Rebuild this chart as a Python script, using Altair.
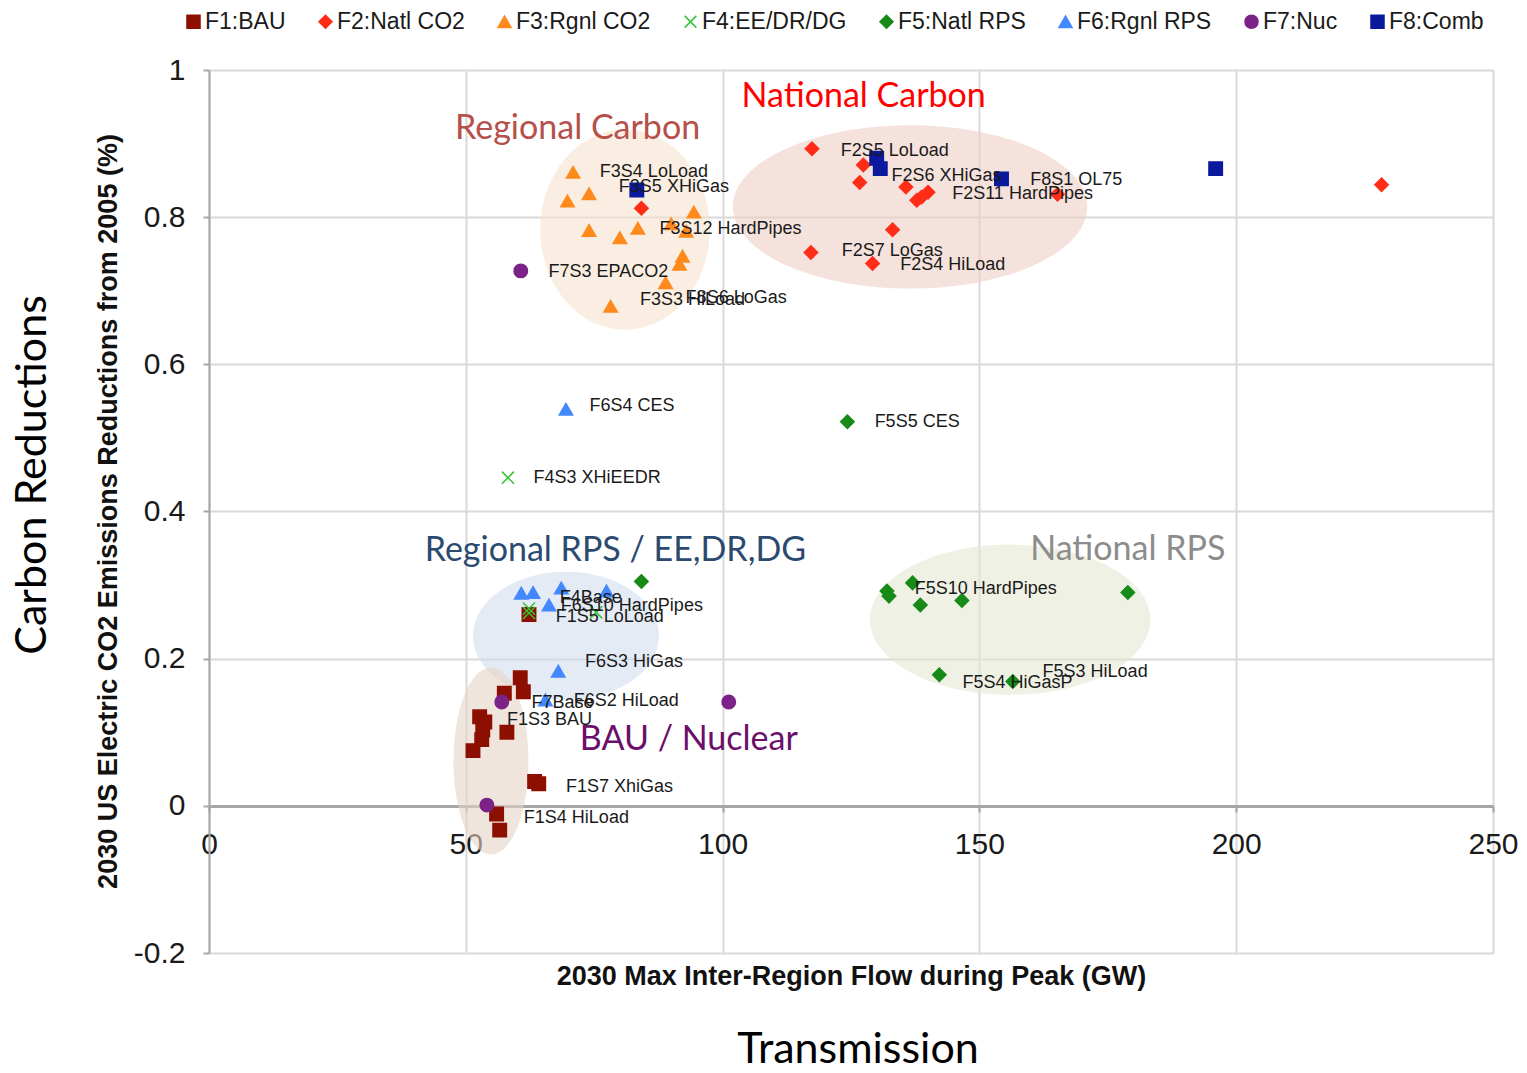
import altair as alt
import pandas as pd

# ---------------- data ----------------
series_names = ["F1:BAU", "F2:Natl CO2", "F3:Rgnl CO2", "F4:EE/DR/DG",
                "F5:Natl RPS", "F6:Rgnl RPS", "F7:Nuc", "F8:Comb"]
series_colors = ["#8C0F00", "#FF2D17", "#FF8A1C", "#33C433",
                 "#178A17", "#4488FF", "#7B2387", "#0B1A9C"]
x_path = "M-0.9,-0.9L0.9,0.9M0.9,-0.9L-0.9,0.9"
series_shapes = ["square", "diamond", "triangle-up", x_path,
                 "diamond", "triangle-up", "circle", "square"]

f1_x = [52.7, 53.7, 53.3, 53.1, 51.4, 60.6, 61.2, 57.5, 58.0, 63.4, 64.2, 56.0, 56.6, 62.3]
f1_y = [0.121, 0.114, 0.103, 0.090, 0.075, 0.174, 0.155, 0.153, 0.100, 0.033, 0.030, -0.011, -0.033, 0.260]

f2_x = [117.4, 127.4, 126.7, 135.7, 140.0, 138.7, 137.8, 165.2, 228.3, 133.1, 117.2, 129.2, 84.2]
f2_y = [0.893, 0.871, 0.847, 0.841, 0.834, 0.827, 0.823, 0.831, 0.844, 0.783, 0.752, 0.737, 0.812]

f3_x = [70.9, 74.0, 69.8, 94.4, 74.0, 80.0, 83.5, 90.0, 92.9, 92.2, 91.6, 88.9, 78.2]
f3_y = [0.861, 0.832, 0.822, 0.807, 0.782, 0.772, 0.785, 0.791, 0.781, 0.747, 0.736, 0.711, 0.679]

f4_x = [58.2, 62.3, 62.3, 75.4]
f4_y = [0.446, 0.268, 0.262, 0.263]

f5_x = [124.3, 84.2, 132.0, 132.4, 137.0, 138.5, 146.6, 178.9, 142.2, 156.5]
f5_y = [0.522, 0.305, 0.292, 0.285, 0.303, 0.273, 0.279, 0.290, 0.178, 0.169]

f6_x = [69.5, 60.8, 63.1, 68.6, 77.4, 66.2, 68.0, 65.5]
f6_y = [0.539, 0.289, 0.290, 0.296, 0.292, 0.273, 0.183, 0.144]

f7_x = [60.7, 57.0, 101.2, 54.1]
f7_y = [0.727, 0.141, 0.141, 0.001]

f8_x = [130.0, 130.7, 154.3, 196.0, 83.3]
f8_y = [0.880, 0.866, 0.852, 0.866, 0.837]

label_text = ["F3S4 LoLoad", "F3S5 XHiGas", "F3S12 HardPipes", "F7S3 EPACO2", "F3S3 HiLoad",
              "F8S6 LoGas", "F2S5 LoLoad", "F2S6 XHiGas", "F8S1 OL75", "F2S11 HardPipes",
              "F2S7 LoGas", "F2S4 HiLoad", "F6S4 CES", "F5S5 CES", "F4S3 XHiEEDR",
              "F4Base", "F6S10 HardPipes", "F1S5 LoLoad", "F5S10 HardPipes", "F6S3 HiGas",
              "F5S3 HiLoad", "F5S4 HiGasP", "F7Base", "F6S2 HiLoad", "F1S3 BAU",
              "F1S7 XhiGas", "F1S4 HiLoad"]
label_x = [76.1, 79.8, 87.7, 66.1, 83.9, 92.8, 123.0, 132.9, 159.9, 144.7,
           123.2, 134.6, 74.1, 129.6, 63.2, 68.3, 68.5, 67.5, 137.4, 73.2,
           162.3, 146.7, 62.8, 71.0, 58.0, 69.5, 61.3]
label_y = [0.861, 0.841, 0.784, 0.725, 0.688, 0.690, 0.890, 0.856, 0.850, 0.831,
           0.754, 0.735, 0.544, 0.522, 0.445, 0.282, 0.272, 0.257, 0.294, 0.195,
           0.182, 0.167, 0.140, 0.143, 0.116, 0.026, -0.016]

region_text = ["National Carbon", "Regional Carbon", "Regional RPS / EE,DR,DG", "National RPS", "BAU / Nuclear"]
region_x = [103.7, 47.9, 42.0, 159.9, 72.2]
region_y = [0.963, 0.920, 0.346, 0.348, 0.090]
region_color = ["#FF0000", "#B5504A", "#2B4A6F", "#8C8C8C", "#6B0F6B"]

ell_name = ["Regional Carbon", "National Carbon", "Regional RPS", "National RPS", "BAU"]
ell_cx = [81.0, 136.5, 69.5, 156.0, 54.9]
ell_cy = [0.783, 0.814, 0.231, 0.253, 0.061]
ell_rx = [16.5, 34.5, 18.1, 27.3, 7.3]
ell_ry = [0.136, 0.111, 0.087, 0.102, 0.127]
ell_color = ["#F6E3CF", "#EFCFC7", "#D2DDEE", "#E5E7D3", "#E6D4C6"]

x_ticks = [0, 50, 100, 150, 200, 250]
y_ticks = [-0.2, 0, 0.2, 0.4, 0.6, 0.8, 1]

# ---------------- build tables ----------------
W, H = 1284, 883
XMIN, XMAX, YMIN, YMAX = 0, 250, -0.2, 1.0
px_x = W / (XMAX - XMIN)
px_y = H / (YMAX - YMIN)

rows = []
for name, xs, ys in zip(series_names,
                        [f1_x, f2_x, f3_x, f4_x, f5_x, f6_x, f7_x, f8_x],
                        [f1_y, f2_y, f3_y, f4_y, f5_y, f6_y, f7_y, f8_y]):
    for a, b in zip(xs, ys):
        rows.append({"series": name, "x": a, "y": b})
pt_df = pd.DataFrame(rows)

K = 0.5523


def ell_path(a, b):
    m = max(a, b)
    a, b = a / m, b / m
    f = lambda v: f"{v:.4f}"
    return (f"M{f(-a)},0"
            f"C{f(-a)},{f(-b*K)} {f(-a*K)},{f(-b)} 0,{f(-b)}"
            f"C{f(a*K)},{f(-b)} {f(a)},{f(-b*K)} {f(a)},0"
            f"C{f(a)},{f(b*K)} {f(a*K)},{f(b)} 0,{f(b)}"
            f"C{f(-a*K)},{f(b)} {f(-a)},{f(b*K)} {f(-a)},0Z")


ell_rows = []
for n, cx, cy, rx, ry, c in zip(ell_name, ell_cx, ell_cy, ell_rx, ell_ry, ell_color):
    a, b = rx * px_x, ry * px_y
    ell_rows.append({"name": n, "cx": cx, "cy": cy, "path": ell_path(a, b),
                     "size": (2 * max(a, b)) ** 2, "col": c})
ell_df = pd.DataFrame(ell_rows)

lab_df = pd.DataFrame({"t": label_text, "x": label_x, "y": label_y})
reg_df = pd.DataFrame({"t": region_text, "x": region_x, "y": region_y, "c": region_color})

xscale = alt.Scale(domain=[XMIN, XMAX], nice=False, zero=False)
yscale = alt.Scale(domain=[YMIN, YMAX], nice=False, zero=False)

AX_GRAY = "#A6A6A6"
GRID = "#D9D9D9"

# ---------------- layers ----------------
ell = alt.Chart(ell_df).mark_point(filled=True, opacity=0.6, strokeWidth=0).encode(
    x=alt.X("cx:Q", scale=xscale,
            axis=alt.Axis(orient="top", grid=True, domain=False, labels=False, ticks=False,
                          title=None, gridColor=GRID, gridWidth=2, values=x_ticks)),
    y=alt.Y("cy:Q", scale=yscale,
            axis=alt.Axis(orient="left", values=y_ticks, grid=True, gridColor=GRID, gridWidth=2,
                          domainColor=AX_GRAY, domainWidth=2, tickColor=AX_GRAY, tickWidth=2,
                          tickSize=6, labelFont="Liberation Sans", labelFontSize=30,
                          labelColor="#1a1a1a", labelPadding=18, labelFlush=False,
                          labelExpr="toString(round(datum.value*10)/10)",
                          title="2030 US Electric CO2 Emissions Reductions from 2005 (%)",
                          titleFont="Liberation Sans", titleFontSize=27, titleFontWeight="bold",
                          titleColor="#111111", titleAngle=270, titleX=-101, titleY=441,
                          titleAlign="center", titleBaseline="middle")),
    shape=alt.Shape("path:N", scale=None),
    size=alt.Size("size:Q", scale=None),
    fill=alt.Fill("col:N", scale=None),
)

leg = alt.Legend(title=None, orient="none", legendX=-27, legendY=-60, direction="horizontal",
                 columns=8, columnPadding=28, labelFont="Liberation Sans", labelFontSize=23,
                 labelColor="#1a1a1a", symbolSize=170, symbolStrokeWidth=1.5, labelOffset=0,
                 padding=0)

pts = alt.Chart(pt_df).mark_point(filled=True, size=180, strokeWidth=1.5, opacity=1).encode(
    x=alt.X("x:Q", scale=xscale,
            axis=alt.Axis(orient="bottom", offset=-147, grid=False, values=x_ticks,
                          domainColor=AX_GRAY, domainWidth=3, tickColor=AX_GRAY, tickWidth=2,
                          tickSize=6, labelFont="Liberation Sans", labelFontSize=30,
                          labelColor="#1a1a1a", labelPadding=17, labelFlush=False,
                          title="2030 Max Inter-Region Flow during Peak (GW)",
                          titleFont="Liberation Sans", titleFontSize=27, titleFontWeight="bold",
                          titleColor="#111111", titleY=170, titleBaseline="middle")),
    y=alt.Y("y:Q", scale=yscale, axis=None),
    fill=alt.Fill("series:N", scale=alt.Scale(domain=series_names, range=series_colors), legend=leg),
    stroke=alt.Stroke("series:N", scale=alt.Scale(domain=series_names, range=series_colors), legend=leg),
    shape=alt.Shape("series:N", scale=alt.Scale(domain=series_names, range=series_shapes), legend=leg),
)

labels = alt.Chart(lab_df).mark_text(align="left", baseline="middle", font="Liberation Sans",
                                     fontSize=18, color="#1a1a1a").encode(
    x=alt.X("x:Q", scale=xscale, axis=None),
    y=alt.Y("y:Q", scale=yscale, axis=None),
    text="t:N",
)

regions = alt.Chart(reg_df).mark_text(align="left", baseline="middle", font="Lato",
                                      fontSize=34).encode(
    x=alt.X("x:Q", scale=xscale, axis=None),
    y=alt.Y("y:Q", scale=yscale, axis=None),
    text="t:N",
    color=alt.Color("c:N", scale=None),
)

deco_y = alt.Chart(pd.DataFrame({"t": ["Carbon Reductions"]})).mark_text(
    align="center", baseline="middle", font="Lato", fontSize=43, angle=270, color="#000000"
).encode(x=alt.value(-176), y=alt.value(405), text="t:N")

deco_x = alt.Chart(pd.DataFrame({"t": ["Transmission"]})).mark_text(
    align="center", baseline="middle", font="Lato", fontSize=43, color="#000000"
).encode(x=alt.value(649), y=alt.value(980), text="t:N")

chart = alt.layer(ell, pts, labels, regions, deco_y, deco_x).resolve_scale(
    shape="independent", fill="independent", stroke="independent", size="independent",
    color="independent"
).resolve_axis(x="independent", y="independent").properties(
    width=W, height=H,
    autosize=alt.AutoSizeParams(type="none"),
    padding={"left": 201, "top": 62, "right": 26, "bottom": 118},
    background="white",
).configure_view(stroke=None)

chart.save("out.html", embed_options={"renderer": "svg", "actions": False})
